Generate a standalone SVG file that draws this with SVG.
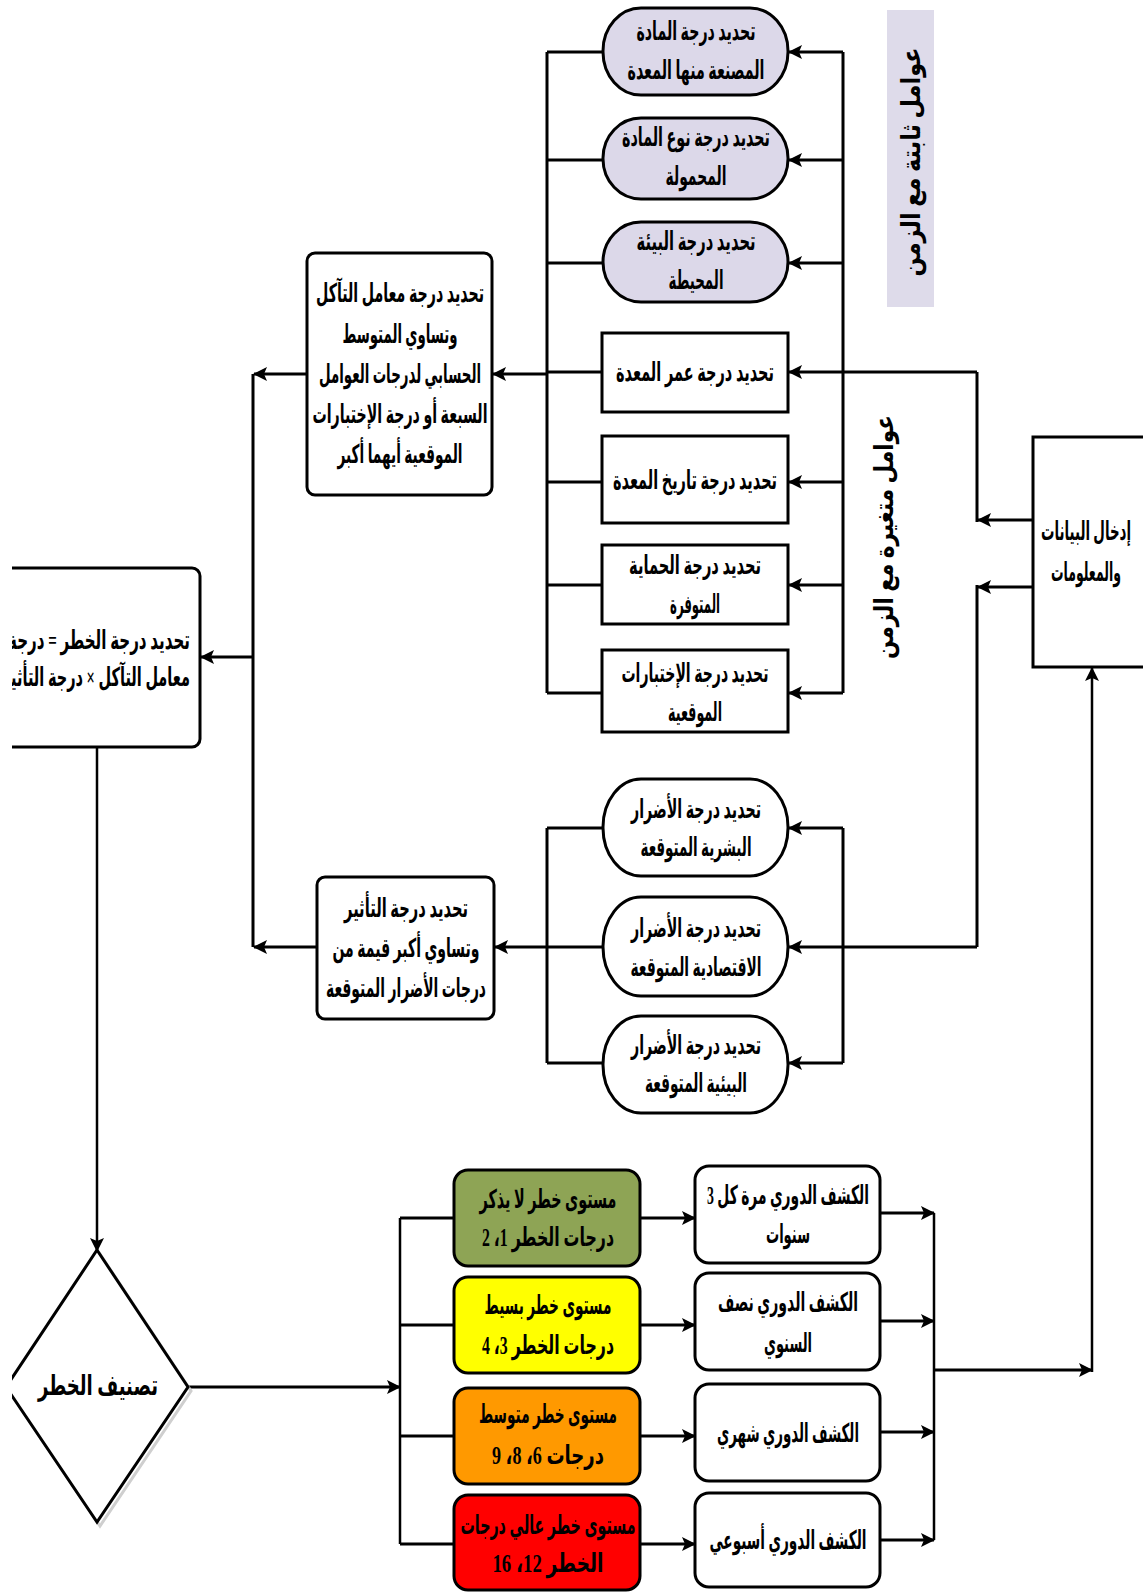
<svg xmlns="http://www.w3.org/2000/svg" width="1143" height="1592" viewBox="0 0 1143 1592">
<style>
.n{stroke:#000;stroke-width:3;fill:#fff}
.lav{fill:#dcd8e9}
.c{stroke:#000;stroke-width:3;fill:none}
.c2{stroke:#000;stroke-width:2.5;fill:none}
.t{font-family:"Liberation Serif","DejaVu Sans",serif;font-weight:bold;font-size:26px;fill:#000;text-anchor:middle;dominant-baseline:central;direction:rtl}
.a{marker-end:url(#ah)}
</style>
<defs>
<marker id="ah" markerUnits="userSpaceOnUse" markerWidth="14" markerHeight="14" viewBox="0 0 14 14" refX="13" refY="7" orient="auto">
<path d="M0,0 L14,7 L0,14 L3,7 z" fill="#000"/>
</marker>
<clipPath id="clipL"><rect x="12" y="0" width="1131" height="1592"/></clipPath>
</defs>
<rect x="0" y="0" width="1143" height="1592" fill="#fff"/>

<g id="connectors">
<line class="c" x1="843" y1="52" x2="843" y2="693"/>
<line class="c a" x1="843" y1="52" x2="789" y2="52"/>
<line class="c a" x1="843" y1="160" x2="789" y2="160"/>
<line class="c a" x1="843" y1="263" x2="789" y2="263"/>
<line class="c a" x1="977" y1="372" x2="789" y2="372"/>
<line class="c a" x1="843" y1="482" x2="789" y2="482"/>
<line class="c a" x1="843" y1="585" x2="789" y2="585"/>
<line class="c a" x1="843" y1="693" x2="789" y2="693"/>
<line class="c" x1="547" y1="52" x2="547" y2="693"/>
<line class="c" x1="547" y1="52" x2="603" y2="52"/>
<line class="c" x1="547" y1="160" x2="603" y2="160"/>
<line class="c" x1="547" y1="263" x2="603" y2="263"/>
<line class="c" x1="547" y1="372" x2="602" y2="372"/>
<line class="c" x1="547" y1="482" x2="602" y2="482"/>
<line class="c" x1="547" y1="585" x2="602" y2="585"/>
<line class="c" x1="547" y1="693" x2="602" y2="693"/>
<line class="c a" x1="547" y1="374" x2="493" y2="374"/>
<line class="c a" x1="307" y1="374" x2="254" y2="374"/>
<line class="c" x1="253" y1="374" x2="253" y2="947"/>
<line class="c a" x1="253" y1="657" x2="201" y2="657"/>
<line class="c" x1="843" y1="828" x2="843" y2="1063"/>
<line class="c a" x1="843" y1="828" x2="789" y2="828"/>
<line class="c a" x1="977" y1="947" x2="789" y2="947"/>
<line class="c a" x1="843" y1="1063" x2="789" y2="1063"/>
<line class="c" x1="547" y1="828" x2="547" y2="1063"/>
<line class="c" x1="547" y1="828" x2="603" y2="828"/>
<line class="c" x1="547" y1="947" x2="603" y2="947"/>
<line class="c" x1="547" y1="1063" x2="603" y2="1063"/>
<line class="c a" x1="547" y1="947" x2="495" y2="947"/>
<line class="c a" x1="317" y1="947" x2="254" y2="947"/>
<line class="c" x1="977" y1="372" x2="977" y2="522"/>
<line class="c a" x1="1033" y1="520" x2="978" y2="520"/>
<line class="c" x1="977" y1="585" x2="977" y2="947"/>
<line class="c a" x1="1033" y1="587" x2="978" y2="587"/>
<line class="c2 a" x1="97" y1="748" x2="97" y2="1251"/>
<line class="c a" x1="189" y1="1387" x2="400" y2="1387"/>
<line class="c2" x1="400" y1="1218" x2="400" y2="1544"/>
<line class="c" x1="400" y1="1218" x2="454" y2="1218"/>
<line class="c" x1="400" y1="1325" x2="454" y2="1325"/>
<line class="c" x1="400" y1="1436" x2="454" y2="1436"/>
<line class="c" x1="400" y1="1544" x2="454" y2="1544"/>
<line class="c a" x1="641" y1="1218" x2="695" y2="1218"/>
<line class="c a" x1="641" y1="1325" x2="695" y2="1325"/>
<line class="c a" x1="641" y1="1436" x2="695" y2="1436"/>
<line class="c a" x1="641" y1="1544" x2="695" y2="1544"/>
<line class="c a" x1="880" y1="1213" x2="934" y2="1213"/>
<line class="c a" x1="880" y1="1321" x2="934" y2="1321"/>
<line class="c a" x1="880" y1="1432" x2="934" y2="1432"/>
<line class="c a" x1="880" y1="1540" x2="934" y2="1540"/>
<line class="c2" x1="934" y1="1213" x2="934" y2="1540"/>
<line class="c a" x1="934" y1="1370" x2="1092" y2="1370"/>
<line class="c2 a" x1="1092" y1="1372" x2="1092" y2="668"/>
</g>

<g id="label-fixed">
<rect x="887" y="10" width="47" height="297" fill="#dedbea"/>
<text class="t" transform="translate(911,162) rotate(-90)" textLength="229" lengthAdjust="spacingAndGlyphs">عوامل ثابتة مع الزمن</text>
</g>
<g id="label-variable">
<text class="t" transform="translate(884,537) rotate(-90)" textLength="244" lengthAdjust="spacingAndGlyphs">عوامل متغيرة مع الزمن</text>
</g>

<g id="s1">
<rect class="n lav" x="603" y="8" width="185" height="87" rx="38" ry="43"/>
<text class="t" x="696" y="31" textLength="119" lengthAdjust="spacingAndGlyphs">تحديد درجة المادة</text>
<text class="t" x="696" y="70" textLength="137" lengthAdjust="spacingAndGlyphs">المصنعة منها المعدة</text>
</g>
<g id="s2">
<rect class="n lav" x="603" y="118" width="185" height="81" rx="38" ry="40"/>
<text class="t" x="696" y="137" textLength="148" lengthAdjust="spacingAndGlyphs">تحديد درجة نوع المادة</text>
<text class="t" x="696" y="176" textLength="61" lengthAdjust="spacingAndGlyphs">المحمولة</text>
</g>
<g id="s3">
<rect class="n lav" x="603" y="222" width="185" height="80" rx="38" ry="40"/>
<text class="t" x="696" y="241" textLength="119" lengthAdjust="spacingAndGlyphs">تحديد درجة البيئة</text>
<text class="t" x="696" y="280" textLength="55" lengthAdjust="spacingAndGlyphs">المحيطة</text>
</g>
<g id="r-age">
<rect class="n" x="602" y="333" width="186" height="79"/>
<text class="t" x="695" y="372" textLength="158" lengthAdjust="spacingAndGlyphs">تحديد درجة عمر المعدة</text>
</g>
<g id="r-history">
<rect class="n" x="602" y="436" width="186" height="87"/>
<text class="t" x="695" y="480" textLength="164" lengthAdjust="spacingAndGlyphs">تحديد درجة تاريخ المعدة</text>
</g>
<g id="r-protection">
<rect class="n" x="602" y="545" width="186" height="79"/>
<text class="t" x="695" y="565" textLength="132" lengthAdjust="spacingAndGlyphs">تحديد درجة الحماية</text>
<text class="t" x="695" y="604" textLength="50" lengthAdjust="spacingAndGlyphs">المتوفرة</text>
</g>
<g id="r-tests">
<rect class="n" x="602" y="650" width="186" height="82"/>
<text class="t" x="695" y="673" textLength="147" lengthAdjust="spacingAndGlyphs">تحديد درجة الإختبارات</text>
<text class="t" x="695" y="712" textLength="54" lengthAdjust="spacingAndGlyphs">الموقعية</text>
</g>

<g id="corrosion">
<rect class="n" x="307" y="253" width="185" height="242" rx="8"/>
<text class="t" x="400" y="293" textLength="168" lengthAdjust="spacingAndGlyphs">تحديد درجة معامل التآكل</text>
<text class="t" x="400" y="334" textLength="115" lengthAdjust="spacingAndGlyphs">وتساوي المتوسط</text>
<text class="t" x="400" y="374" textLength="162" lengthAdjust="spacingAndGlyphs">الحسابي لدرجات العوامل</text>
<text class="t" x="400" y="414" textLength="175" lengthAdjust="spacingAndGlyphs">السبعة أو درجة الإختبارات</text>
<text class="t" x="400" y="454" textLength="125" lengthAdjust="spacingAndGlyphs">الموقعية أيهما أكبر</text>
</g>

<g id="risk" clip-path="url(#clipL)">
<rect class="n" x="-40" y="568" width="240" height="179" rx="8"/>
<text class="t" x="99" y="640" textLength="182" lengthAdjust="spacingAndGlyphs">تحديد درجة الخطر = درجة</text>
<text class="t" x="96" y="677" textLength="188" lengthAdjust="spacingAndGlyphs">معامل التآكل × درجة التأثير</text>
</g>

<g id="impact">
<rect class="n" x="317" y="877" width="177" height="142" rx="8"/>
<text class="t" x="406" y="908" textLength="124" lengthAdjust="spacingAndGlyphs">تحديد درجة التأثير</text>
<text class="t" x="406" y="948" textLength="147" lengthAdjust="spacingAndGlyphs">وتساوي أكبر قيمة من</text>
<text class="t" x="406" y="988" textLength="160" lengthAdjust="spacingAndGlyphs">درجات الأضرار المتوقعة</text>
</g>

<g id="d-human">
<rect class="n" x="603" y="779" width="185" height="97" rx="38" ry="48"/>
<text class="t" x="696" y="809" textLength="130" lengthAdjust="spacingAndGlyphs">تحديد درجة الأضرار</text>
<text class="t" x="696" y="847" textLength="111" lengthAdjust="spacingAndGlyphs">البشرية المتوقعة</text>
</g>
<g id="d-economic">
<rect class="n" x="603" y="897" width="185" height="99" rx="38" ry="49"/>
<text class="t" x="696" y="928" textLength="130" lengthAdjust="spacingAndGlyphs">تحديد درجة الأضرار</text>
<text class="t" x="696" y="967" textLength="131" lengthAdjust="spacingAndGlyphs">الاقتصادية المتوقعة</text>
</g>
<g id="d-environment">
<rect class="n" x="603" y="1016" width="185" height="97" rx="38" ry="48"/>
<text class="t" x="696" y="1045" textLength="130" lengthAdjust="spacingAndGlyphs">تحديد درجة الأضرار</text>
<text class="t" x="696" y="1083" textLength="102" lengthAdjust="spacingAndGlyphs">البيئية المتوقعة</text>
</g>

<g id="classify" clip-path="url(#clipL)">
<polygon points="100,1254 191,1391 100,1526 9,1391" fill="none" stroke="#cfcfcf" stroke-width="3"/>
<polygon class="n" points="97,1250 188,1387 97,1522 6,1387"/>
<text class="t" x="98" y="1385" textLength="120" lengthAdjust="spacingAndGlyphs" style="font-size:28px">تصنيف الخطر</text>
</g>

<g id="level-1">
<rect class="n" x="454" y="1170" width="186" height="96" rx="14" style="fill:#8ea455"/>
<text class="t" x="548" y="1199" textLength="137" lengthAdjust="spacingAndGlyphs">مستوى خطر لا يذكر</text>
<text class="t" x="548" y="1237" textLength="132" lengthAdjust="spacingAndGlyphs">درجات الخطر 1، 2</text>
</g>
<g id="level-2">
<rect class="n" x="454" y="1277" width="186" height="96" rx="14" style="fill:#ffff00"/>
<text class="t" x="548" y="1305" textLength="127" lengthAdjust="spacingAndGlyphs">مستوى خطر بسيط</text>
<text class="t" x="548" y="1345" textLength="132" lengthAdjust="spacingAndGlyphs">درجات الخطر 3، 4</text>
</g>
<g id="level-3">
<rect class="n" x="454" y="1388" width="186" height="96" rx="14" style="fill:#ff9900"/>
<text class="t" x="548" y="1414" textLength="138" lengthAdjust="spacingAndGlyphs">مستوى خطر متوسط</text>
<text class="t" x="548" y="1455" textLength="112" lengthAdjust="spacingAndGlyphs">درجات 6، 8، 9</text>
</g>
<g id="level-4">
<rect class="n" x="454" y="1495" width="186" height="95" rx="14" style="fill:#ff0000"/>
<text class="t" x="548" y="1525" textLength="175" lengthAdjust="spacingAndGlyphs">مستوى خطر عالي درجات</text>
<text class="t" x="548" y="1563" textLength="111" lengthAdjust="spacingAndGlyphs">الخطر 12، 16</text>
</g>

<g id="insp-1">
<rect class="n" x="695" y="1166" width="185" height="97" rx="14"/>
<text class="t" x="788" y="1195" textLength="162" lengthAdjust="spacingAndGlyphs">الكشف الدوري مرة كل 3</text>
<text class="t" x="788" y="1234" textLength="44" lengthAdjust="spacingAndGlyphs">سنوات</text>
</g>
<g id="insp-2">
<rect class="n" x="695" y="1273" width="185" height="97" rx="14"/>
<text class="t" x="788" y="1302" textLength="140" lengthAdjust="spacingAndGlyphs">الكشف الدوري نصف</text>
<text class="t" x="788" y="1343" textLength="48" lengthAdjust="spacingAndGlyphs">السنوي</text>
</g>
<g id="insp-3">
<rect class="n" x="695" y="1384" width="185" height="97" rx="14"/>
<text class="t" x="788" y="1433" textLength="142" lengthAdjust="spacingAndGlyphs">الكشف الدوري شهري</text>
</g>
<g id="insp-4">
<rect class="n" x="695" y="1493" width="185" height="94" rx="14"/>
<text class="t" x="788" y="1540" textLength="157" lengthAdjust="spacingAndGlyphs">الكشف الدوري أسبوعي</text>
</g>

<g id="input">
<rect class="n" x="1033" y="437" width="140" height="230"/>
<text class="t" x="1086" y="531" textLength="90" lengthAdjust="spacingAndGlyphs">إدخال البيانات</text>
<text class="t" x="1086" y="572" textLength="70" lengthAdjust="spacingAndGlyphs">والمعلومات</text>
</g>
</svg>
